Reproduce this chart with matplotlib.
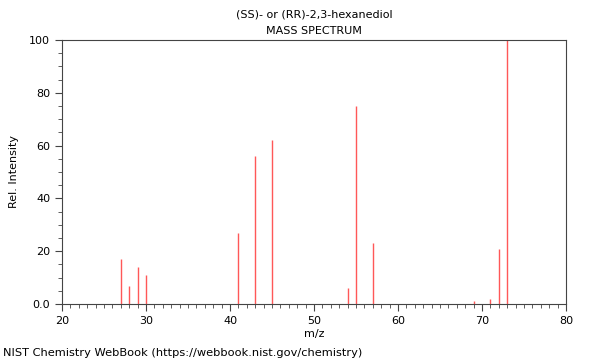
import matplotlib
matplotlib.use("Agg")
import matplotlib.pyplot as plt
from matplotlib.ticker import MultipleLocator, FuncFormatter

mz = [27, 28, 29, 30, 41, 43, 45, 54, 55, 57, 69, 71, 72, 73]
intensity = [17, 7, 14, 11, 27, 56, 62, 6, 75, 23, 1, 2, 21, 100]

fig = plt.figure(figsize=(6, 3.6), dpi=100)
ax = fig.add_axes([62/600, 1-304/360, (566-62)/600, (304-40)/360])
ax.vlines(mz, 0, intensity, colors="#ff3b3b", linewidth=1.0, alpha=0.85)
ax.set_xlim(20, 80)
ax.set_ylim(0, 100)
ax.xaxis.set_major_locator(MultipleLocator(10))
ax.xaxis.set_minor_locator(MultipleLocator(1))
ax.yaxis.set_major_locator(MultipleLocator(20))
ax.yaxis.set_minor_locator(MultipleLocator(5))
ax.yaxis.set_major_formatter(FuncFormatter(lambda v, p: "0.0" if v == 0 else f"{v:.0f}"))
ax.tick_params(which="both", direction="out", labelsize=8, color="#444444")
ax.tick_params(which="major", length=5)
ax.tick_params(which="minor", length=3)
for s in ax.spines.values():
    s.set_color("#444444")
ax.set_xlabel("m/z", fontsize=8, labelpad=2)
ax.set_ylabel("Rel. Intensity", fontsize=8, labelpad=7)
ax.set_title("(SS)- or (RR)-2,3-hexanediol\nMASS SPECTRUM", fontsize=8, linespacing=1.9, pad=4)
fig.text(3/600, 1-353/360, "NIST Chemistry WebBook (https://webbook.nist.gov/chemistry)", fontsize=8.2, va="center", ha="left")
fig.savefig("out.png", dpi=100)
